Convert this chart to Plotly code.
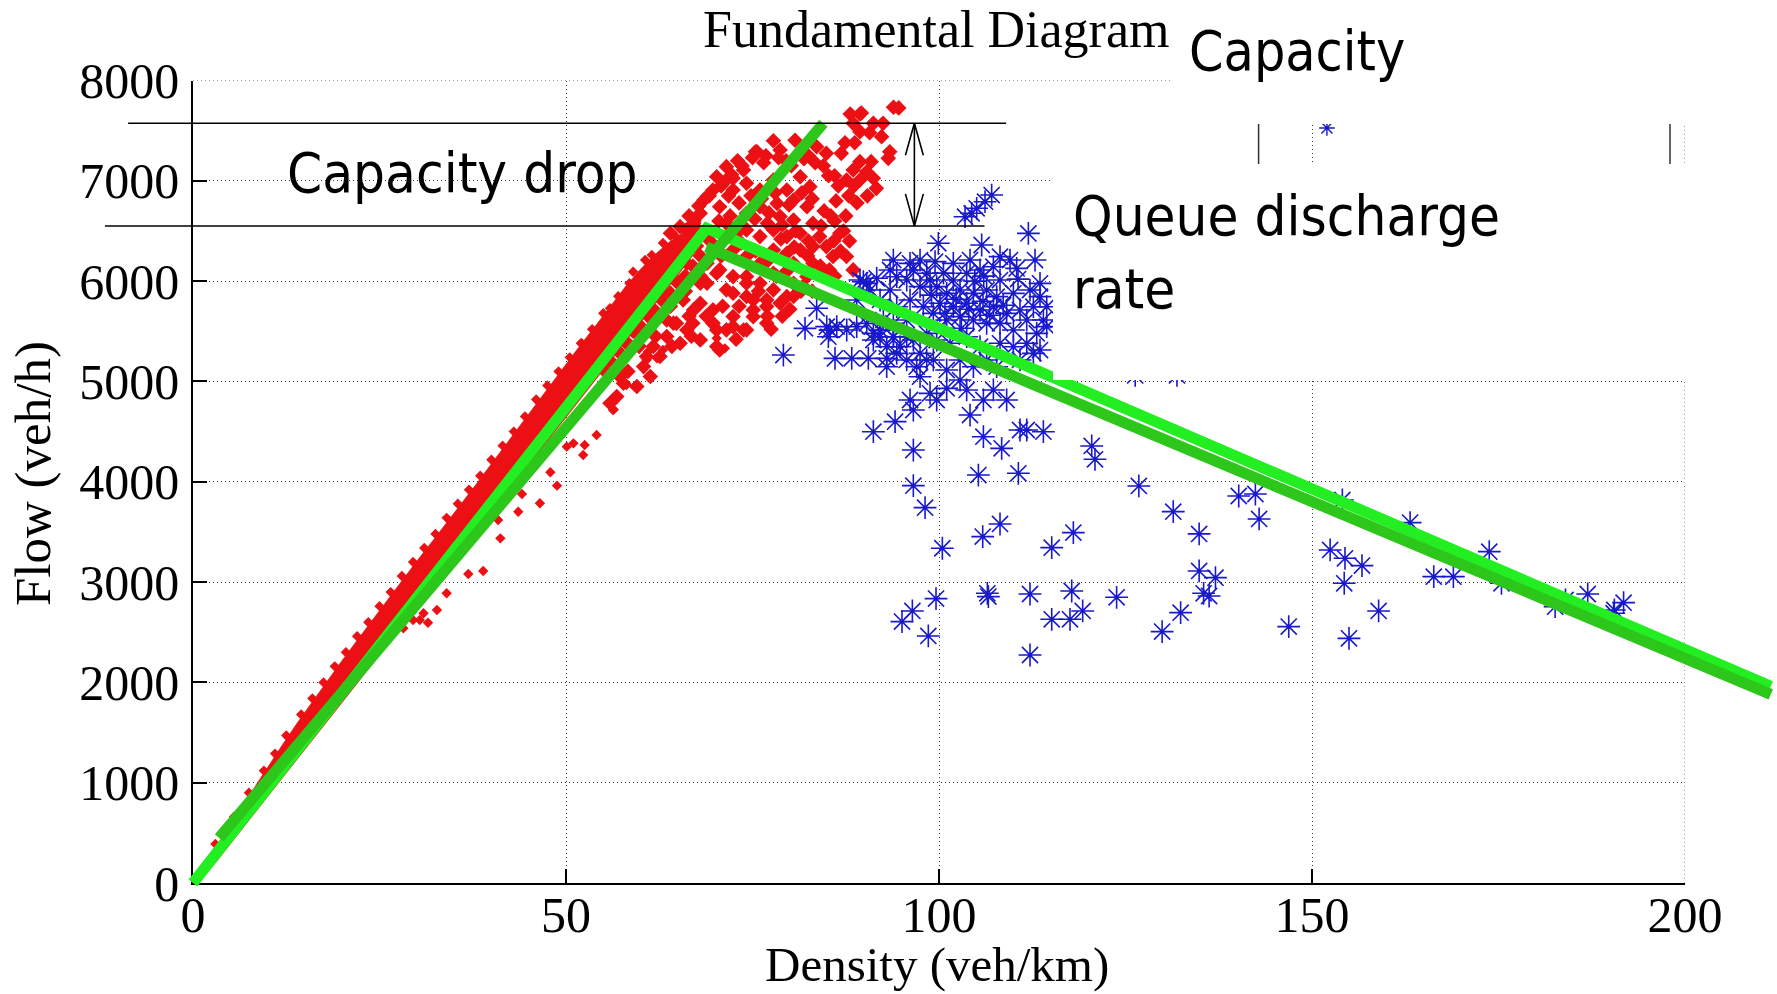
import plotly.graph_objects as go

# ---------------- figure geometry (pixels) ----------------
W, H = 1777, 994
PX_X0, PX_X1 = 193.0, 1685.0     # pixel column of density 0 and 200
PX_Y0, PX_Y1 = 883.0, 80.5       # pixel row of flow 0 and 8000
X_MAX, Y_MAX = 200, 8000

# ---------------- axes ----------------
x_ticks = [0, 50, 100, 150, 200]
y_ticks = [0, 1000, 2000, 3000, 4000, 5000, 6000, 7000, 8000]

# ---------------- data (density veh/km, flow veh/h) ----------------
# dense free-flow band outline (upper edge, then lower edge)
red_band_upper = [(0, 0), (2, 240), (4, 470), (6, 700), (8, 930), (10, 1160), (12, 1380), (14, 1600),
                  (16, 1810), (18, 2020), (20, 2220), (22, 2420), (24, 2620), (26, 2820), (28, 3020),
                  (30, 3210), (32, 3400), (34, 3590), (36, 3790), (38, 3980), (40, 4180), (42, 4380),
                  (44, 4570), (46, 4780), (48, 4980), (50, 5170), (52, 5370), (54, 5560), (56, 5760),
                  (58, 5950), (60, 6120), (62, 6270), (64, 6400), (66, 6500), (68, 6580)]
red_band_lower = [(68, 6350), (65, 6060), (60, 5590), (50, 4640), (40, 3690), (30, 2740), (20, 1800),
                  (10, 860), (3, 200), (0, 0)]

red_fringe = [(3, 390), (5.5, 660), (7.5, 900), (9.5, 1120), (11, 1290), (12.5, 1470), (14.5, 1680),
              (16, 1840), (17.5, 2000), (19, 2160), (20.5, 2300), (22, 2460), (23.5, 2600), (25, 2760),
              (26.5, 2900), (28, 3060), (29.5, 3200), (31, 3340), (32.5, 3480), (34, 3640), (35.5, 3780),
              (37, 3920), (38.5, 4060), (40, 4220), (41.5, 4360), (43, 4500), (44.5, 4650), (46, 4820),
              (47.5, 4960), (49, 5100), (50.5, 5240), (52, 5380), (53.5, 5520), (55, 5680), (55.9, 5729),
              (57, 5850), (58.5, 5980), (59, 6094), (60.6, 6211), (61.5, 6260), (63, 6380), (64.5, 6460),
              (66, 6530), (67.5, 6600), (52.1, 5380)]

red_sparse = [(28.2, 2539), (29.5, 2622), (30.4, 2622), (31.5, 2595), (30.9, 2689), (32.7, 2722),
              (34.0, 2888), (36.9, 3080), (38.9, 3110), (41.2, 3436), (40.9, 3619), (43.6, 3701),
              (46.5, 3785), (44.1, 3878), (47.9, 4094), (48.8, 3961), (50.1, 4350), (51.0, 4383),
              (52.5, 4367), (52.3, 4267), (54.1, 4466), (55.9, 4782), (56.3, 4715), (57.0, 4848),
              (58.1, 4965), (59.2, 4948), (60.8, 5214), (62.2, 5230), (61.0, 5296), (65.3, 5363),
              (70.2, 5430), (71.3, 5330), (63.0, 5313), (56.4, 4720)]

red_cloud = [(75.6, 7290), (77.8, 7400), (80.7, 7405), (78.7, 7307), (83.6, 7340), (84.9, 7274),
             (87.4, 7380), (88.7, 7380), (86.9, 7274), (89.4, 7191), (90.9, 7191), (90.3, 7091),
             (88.5, 7108), (87.6, 7008), (89.4, 7008), (91.2, 7025), (91.6, 6925), (92.3, 7440),
             (93.4, 7290), (93.2, 7224), (93.9, 7733), (92.5, 7573), (91.2, 7573), (89.4, 7490),
             (90.7, 7480), (88.1, 7666), (89.4, 7666), (88.5, 7573), (94.6, 7727), (89.6, 7676),
             (71.5, 7008), (72.4, 6909), (74.2, 6975), (76.0, 6909), (77.8, 7008), (79.6, 6909),
             (81.4, 7041), (82.7, 6942), (80.5, 6809), (78.3, 6775), (76.0, 6742), (74.2, 6676),
             (77.0, 6576), (78.7, 6643), (80.5, 6610), (82.3, 6742), (83.1, 6576), (81.4, 6477),
             (79.6, 6444), (77.8, 6510), (84.0, 6444), (84.9, 6344), (85.8, 6245), (83.1, 6344),
             (81.4, 6311), (79.6, 6278), (77.8, 6311), (76.0, 6444), (74.2, 6510), (72.9, 6477),
             (71.5, 6576), (70.6, 6742), (69.7, 6909), (70.2, 7041), (68.9, 6842), (68.0, 6676),
             (67.1, 6576), (66.2, 6510), (65.3, 6543), (87.6, 6245), (88.5, 6112), (86.7, 6477),
             (85.3, 6112), (83.1, 6178), (80.5, 6178), (77.8, 6079), (76.0, 6178), (74.2, 6245),
             (72.4, 6311), (68.9, 6178), (70.6, 6112), (72.4, 6045), (74.2, 6045), (76.0, 5979),
             (77.8, 5913), (79.6, 5846), (76.9, 5813), (74.2, 5846), (71.5, 5913), (68.9, 5979),
             (67.1, 6045), (66.2, 6178), (68.0, 5780), (69.7, 5713), (72.4, 5647), (75.1, 5713),
             (76.9, 5581), (74.2, 5514), (71.5, 5514), (69.7, 5581), (67.1, 5713), (65.3, 5846),
             (64.4, 5581), (63.5, 5448), (65.3, 5381), (68.0, 5414), (70.2, 5348), (62.6, 5248),
             (60.8, 5248), (61.7, 5348), (60.4, 5148), (61.3, 5049), (57.7, 4982), (55.9, 4783),
             (56.8, 4849), (59.5, 4949), (76.9, 5747), (78.7, 5780), (80.5, 5979), (82.3, 6045),
             (80.5, 5846), (70.6, 5314), (70.2, 5514), (71.5, 7141), (72.4, 7025), (73.8, 7108),
             (75.4, 7290), (68.5, 6809), (64.0, 6477), (64.8, 5579), (66.2, 5513), (67.0, 5580),
             (69.7, 5579), (73.8, 5513), (72.4, 5546), (75.1, 5646), (63.5, 5613), (68.0, 5979),
             (70.2, 6078), (72.4, 5879), (74.2, 5979), (75.1, 5812), (65.7, 5812), (58, 5400),
             (59, 5500), (60, 5550), (61, 5650), (62, 5700), (63, 5800), (64, 5880), (65, 5980),
             (66, 6050), (67, 6150), (68, 6250), (57, 5300), (56, 5200), (55, 5120), (60, 5450),
             (62, 5600), (64, 5750), (66, 5900), (68, 6050), (58.5, 5350),
             (84.5, 7150), (86.0, 7050), (82.5, 7250), (79.5, 7200), (76.5, 7180), (73.0, 7200),
             (86.2, 6800), (87.5, 6650), (85.5, 6650), (88.0, 6400), (86.8, 6300), (84.3, 6050),
             (81.5, 5900), (79.0, 5650), (77.5, 5520), (80.0, 5720), (62.5, 5950), (61.5, 5850),
             (66.5, 6650), (67.8, 6750), (69.2, 6850), (70.8, 6950), (72.2, 7060), (73.6, 7150),
             (75.0, 7230), (76.8, 7250), (78.5, 7230), (80.2, 7150), (81.9, 7220), (83.4, 7180),
             (85.2, 7050), (86.5, 6950), (87.9, 6850), (89.0, 6780), (90.4, 6850), (88.6, 6950),
             (86.0, 6600), (84.6, 6700), (83.0, 6820), (81.6, 6880), (79.9, 6760), (78.0, 6880),
             (76.2, 6820), (74.8, 6850), (73.2, 6780), (71.8, 6850), (70.5, 6600), (72.0, 6650),
             (73.6, 6560), (75.3, 6620), (77.2, 6680), (79.0, 6560), (80.8, 6500), (82.5, 6400),
             (84.2, 6550), (85.9, 6400), (87.2, 6500), (73.5, 6380), (75.4, 6300), (77.0, 6200),
             (78.8, 6420), (80.6, 6340), (82.4, 6250), (84.1, 6150), (86.0, 6050), (70.8, 6250),
             (69.3, 6400), (67.5, 6350), (66.0, 6300), (64.8, 6150), (63.5, 6050), (62.6, 5850),
             (66.5, 5650), (68.8, 5650), (71.0, 5750), (73.2, 5750), (75.8, 5900), (78.2, 6050),
             (79.6, 6100), (81.8, 5950), (83.0, 5900), (77.0, 5650), (72.8, 5420), (66.8, 5450),
             (64.2, 5350), (62.0, 5450), (59.8, 5350), (58.3, 5100), (57.2, 5050)]

blue_cluster = [(95.67, 6011), (97.46, 5945), (99.69, 5945), (101.03, 5878), (102.82, 5911), (104.61, 5878),
                (106.39, 5911), (107.73, 5845), (109.97, 5878), (100.14, 5779), (101.92, 5745), (103.71, 5779),
                (105.5, 5712), (107.29, 5745), (109.07, 5679), (110.86, 5712), (112.65, 5745), (102.82, 5646),
                (104.61, 5612), (106.39, 5579), (108.18, 5579), (109.97, 5513), (111.76, 5612), (113.1, 5479),
                (101.03, 5612), (99.24, 5679), (97.9, 5745), (93.44, 5911), (92.1, 5812), (94.33, 5745),
                (96.12, 5812), (91.2, 5479), (93.88, 5446), (94.78, 5346), (96.56, 5413), (98.35, 5479),
                (99.69, 5413), (101.48, 5380), (103.71, 5446), (105.5, 5346), (108.18, 5380), (109.97, 5346),
                (111.76, 5380), (113.54, 5313), (102.82, 5214), (104.61, 5147), (98.35, 5214), (95.67, 5214),
                (94.33, 5280), (92.54, 5612), (93.88, 5579), (95.67, 5612), (90.31, 5579), (88.97, 5546),
                (89.41, 6011), (90.75, 5911), (88.97, 5812), (93.44, 6111), (96.56, 6111), (98.8, 6011),
                (97.46, 6210), (101.92, 6177), (103.71, 6078), (107.29, 6144), (108.18, 6244), (113.54, 5978),
                (114.44, 5546), (114.44, 5745), (113.99, 5612),
                (100.8, 5680), (102.3, 5820), (104.0, 5720), (105.9, 5800), (103.0, 5530), (106.8, 5660),
                (99.0, 5860), (100.6, 6080), (104.8, 6000), (106.0, 6050), (110.6, 6020), (108.6, 5760)]

blue_scatter = [(107.06, 6858), (106.17, 6792), (105.05, 6726), (104.38, 6676), (103.49, 6642), (111.98, 6476),
                (99.91, 6377), (105.72, 6360), (93.88, 6210), (96.12, 6177), (99.47, 6194), (104.16, 6210),
                (109.52, 6210), (112.87, 6210), (110.41, 6127), (105.5, 6111), (91.65, 6028), (94.33, 6044),
                (90.31, 5978), (98.35, 6078), (101.92, 6011), (108.18, 6011), (112.2, 5911), (113.54, 5845),
                (83.6, 5729), (82.04, 5529), (84.95, 5546), (86.29, 5546), (87.63, 5513), (85.17, 5446),
                (86.06, 5230), (88.3, 5230), (90.53, 5230), (92.99, 5230), (79.14, 5263), (91.2, 5413),
                (92.1, 5446), (92.99, 5346), (95.67, 5446), (97.46, 5280), (92.99, 5147), (97.01, 5147),
                (99.24, 5214), (97.46, 5047), (101.03, 5114), (102.82, 5014), (106.39, 5214), (107.73, 5147),
                (110.86, 5214), (112.65, 5280), (107.29, 4915), (109.07, 4815), (105.95, 4815), (103.71, 4915),
                (101.03, 4931), (98.8, 4881), (99.69, 4815), (96.12, 4815), (96.56, 4715), (94.11, 4599),
                (91.2, 4499), (96.56, 4316), (104.16, 4665), (105.95, 4449), (108.4, 4333), (110.86, 4516),
                (111.76, 4516), (113.99, 4499), (105.28, 4067), (110.64, 4084), (85.39, 5512), (89.86, 5994),
                (92.1, 5512), (93.9, 5446), (120.47, 4357), (120.91, 4224), (96.56, 3961), (98.13, 3742),
                (100.45, 3337), (105.86, 3453), (108.18, 3579), (115.11, 3343), (118.01, 3493), (99.6, 2835),
                (96.43, 2712), (95.04, 2606), (98.57, 2463), (106.48, 2888), (106.62, 2855), (112.2, 2881),
                (117.79, 2911), (119.26, 2712), (115.11, 2629), (117.56, 2629), (112.2, 2273),
                (126.79, 3958), (131.4, 3702), (134.87, 3480), (140.18, 3858), (142.41, 3878), (142.91, 3629),
                (134.87, 3111), (137.06, 3044), (135.47, 2888), (136.21, 2861), (123.81, 2848), (132.39, 2695),
                (129.91, 2506), (146.88, 2556), (154.07, 3818), (152.43, 3320), (154.42, 3237), (156.7, 3164),
                (154.32, 2988), (158.93, 2712), (154.96, 2439), (163.15, 3593), (166.32, 3054), (168.95, 3054),
                (173.76, 3303), (175.4, 2988), (182.59, 2755), (183.98, 2822), (186.96, 2881), (190.53, 2722),
                (191.77, 2795), (190.43, 2689), (126.3, 5060), (131.9, 5060)]

legend_star = [(152.0, 7527)]

# fitted fundamental-diagram lines
fd_lime = [(0, 0), (68.85, 6527), (211.5, 1960)]
fd_capacity = [(3.5, 450), (84.5, 7574)]
fd_congested = [(68.8, 6340), (211.5, 1880)]

# annotation levels
capacity_level = 7574
discharge_level = 6550
capacity_line_x = [-8.7, 109.0]
discharge_line_x = [-11.8, 106.1]
arrow_x = 96.7

RED = "#ec1014"
BLUE = "#1818cc"
LIME = "#22ee22"
DARK_GREEN = "#2cc71a"
GRID = "#3a3a3a"
SERIF = "Liberation Serif, Times New Roman, serif"
SANS = "DejaVu Sans Condensed, Liberation Sans, Arial, sans-serif"


def unzip(pts):
    return [p[0] for p in pts], [p[1] for p in pts]


sx = (PX_X1 - PX_X0) / X_MAX
sy = (PX_Y0 - PX_Y1) / Y_MAX
x2_range = [-PX_X0 / sx, (W - PX_X0) / sx]
y2_range = [-(H - PX_Y0) / sy, PX_Y0 / sy]


def paper(px, py):
    return px / W, 1 - py / H


fig = go.Figure()

bx, by = unzip(red_band_upper + red_band_lower)
fig.add_trace(go.Scatter(x=bx, y=by, mode="lines", fill="toself", fillcolor=RED,
                         line=dict(width=0.5, color=RED), hoverinfo="skip", xaxis="x", yaxis="y"))
rx, ry = unzip(red_fringe + red_sparse)
fig.add_trace(go.Scatter(x=rx, y=ry, mode="markers",
                         marker=dict(symbol="diamond", size=8, color=RED, line=dict(width=0)),
                         xaxis="x", yaxis="y"))
cx, cy = unzip(red_cloud)
fig.add_trace(go.Scatter(x=cx, y=cy, mode="markers",
                         marker=dict(symbol="diamond", size=12, color=RED, line=dict(width=0)),
                         xaxis="x", yaxis="y"))
bux, buy = unzip(blue_cluster + blue_scatter)
fig.add_trace(go.Scatter(x=bux, y=buy, mode="markers",
                         marker=dict(symbol="asterisk-open", size=19, color=BLUE,
                                     line=dict(width=1.6, color=BLUE)),
                         xaxis="x", yaxis="y"))
lx, ly = unzip(legend_star)
fig.add_trace(go.Scatter(x=lx, y=ly, mode="markers",
                         marker=dict(symbol="asterisk-open", size=13, color=BLUE,
                                     line=dict(width=1.4, color=BLUE)),
                         xaxis="x", yaxis="y"))

# green model lines (may extend beyond the axes -> full-figure overlay axes)
for pts, col in [(fd_lime, LIME), (fd_capacity, DARK_GREEN), (fd_congested, DARK_GREEN)]:
    gx, gy = unzip(pts)
    fig.add_trace(go.Scatter(x=gx, y=gy, mode="lines", line=dict(color=col, width=11),
                             xaxis="x2", yaxis="y2", hoverinfo="skip"))

# capacity / queue discharge reference lines and double arrow
fig.add_trace(go.Scatter(x=capacity_line_x, y=[capacity_level] * 2, mode="lines",
                         line=dict(color="black", width=1.6), xaxis="x2", yaxis="y2"))
fig.add_trace(go.Scatter(x=discharge_line_x, y=[discharge_level] * 2, mode="lines",
                         line=dict(color="black", width=1.6), xaxis="x2", yaxis="y2"))
head_len = 320
head_half = 1.2
fig.add_trace(go.Scatter(
    x=[arrow_x, arrow_x, None,
       arrow_x - head_half, arrow_x, arrow_x + head_half, None,
       arrow_x - head_half, arrow_x, arrow_x + head_half],
    y=[capacity_level, discharge_level, None,
       capacity_level - head_len, capacity_level, capacity_level - head_len, None,
       discharge_level + head_len, discharge_level, discharge_level + head_len],
    mode="lines", line=dict(color="black", width=1.6), xaxis="x2", yaxis="y2"))

axis_common = dict(showgrid=True, gridcolor=GRID, gridwidth=1, griddash="1px,3px",
                   showline=True, linecolor="black", linewidth=1.5, ticks="inside", ticklen=14,
                   tickwidth=1.5, tickcolor="black", zeroline=False, automargin=False,
                   tickfont=dict(family=SERIF, size=50, color="black"))

fig.update_layout(
    template="none",
    width=W, height=H, margin=dict(l=0, r=0, t=0, b=0, pad=0, autoexpand=False),
    paper_bgcolor="white", plot_bgcolor="rgba(0,0,0,0)", showlegend=False,
    xaxis=dict(domain=[PX_X0 / W, PX_X1 / W], range=[0, X_MAX], tickvals=x_ticks,
               ticktext=[str(v) for v in x_ticks], anchor="y", ticklabelstandoff=-13, **axis_common),
    yaxis=dict(domain=[1 - PX_Y0 / H, 1 - PX_Y1 / H], range=[0, Y_MAX], tickvals=y_ticks,
               ticktext=[str(v) for v in y_ticks], anchor="x", ticklabelstandoff=2, **axis_common),
    xaxis2=dict(domain=[0, 1], range=x2_range, visible=False, anchor="y2", automargin=False),
    yaxis2=dict(domain=[0, 1], range=y2_range, visible=False, anchor="x2", automargin=False),
)

# dotted frame lines at the top (8000) and right (200) edges
fig.add_shape(type="line", xref="x", yref="y", x0=0, x1=X_MAX, y0=Y_MAX, y1=Y_MAX,
              line=dict(color=GRID, width=1, dash="1px,3px"), layer="below")
fig.add_shape(type="line", xref="x", yref="y", x0=X_MAX, x1=X_MAX, y0=0, y1=Y_MAX,
              line=dict(color=GRID, width=1, dash="1px,3px"), layer="below")

# legend remnant box (behind other boxes, above grid)
fig.add_shape(type="rect", xref="x", yref="y",
              x0=(1258.6 - PX_X0) / sx, x1=(1670 - PX_X0) / sx,
              y0=(PX_Y0 - 200) / sy, y1=(PX_Y0 - 95) / sy,
              line=dict(color="#333333", width=1.5), fillcolor="white", layer="below")

# white text boxes covering the plot
for (x0, y0, x1, y1) in [(1172, 0, W, 124), (1053, 164, W, 380)]:
    a0 = paper(x0, y1)
    a1 = paper(x1, y0)
    fig.add_shape(type="rect", xref="paper", yref="paper", x0=a0[0], y0=a0[1], x1=a1[0], y1=a1[1],
                  line=dict(width=0), fillcolor="white", layer="above")

ann = []
tx, ty = paper(936, 29)
ann.append(dict(text="Fundamental Diagram", x=tx, y=ty, xanchor="center", yanchor="middle",
                font=dict(family=SERIF, size=52, color="black")))
tx, ty = paper(937, 964)
ann.append(dict(text="Density (veh/km)", x=tx, y=ty, xanchor="center", yanchor="middle",
                font=dict(family=SERIF, size=49, color="black")))
tx, ty = paper(33, 474)
ann.append(dict(text="Flow (veh/h)", x=tx, y=ty, xanchor="center", yanchor="middle", textangle=-90,
                font=dict(family=SERIF, size=51, color="black")))
tx, ty = paper(285, 173)
ann.append(dict(text="Capacity drop", x=tx, y=ty, xanchor="left", yanchor="middle",
                font=dict(family=SANS, size=56, color="black")))
tx, ty = paper(1187, 51)
ann.append(dict(text="Capacity", x=tx, y=ty, xanchor="left", yanchor="middle",
                font=dict(family=SANS, size=55, color="black")))
tx, ty = paper(1071, 181)
ann.append(dict(text="Queue discharge<br>rate", x=tx, y=ty, xanchor="left", yanchor="top", align="left",
                font=dict(family=SANS, size=56, color="black")))
for a in ann:
    a.update(xref="paper", yref="paper", showarrow=False)
fig.update_layout(annotations=ann)

fig.write_html("out.html")
